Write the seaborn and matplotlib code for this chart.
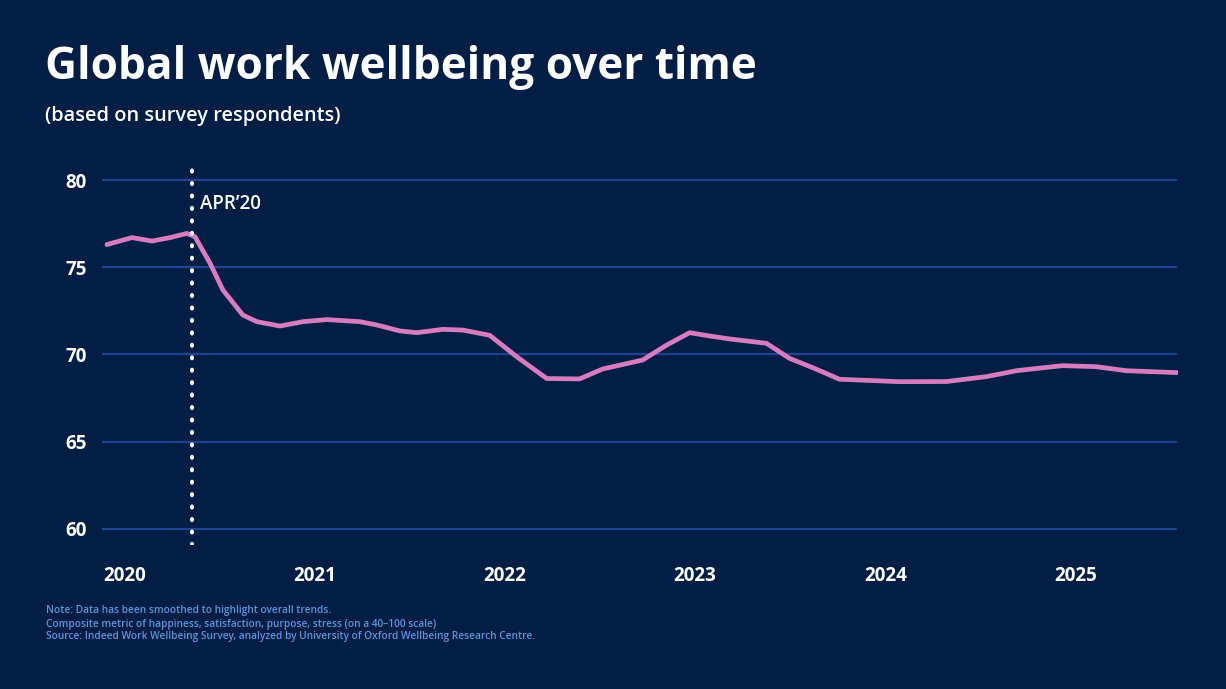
import pandas as pd
import matplotlib
matplotlib.use("Agg")
import matplotlib.pyplot as plt
import seaborn as sns

# valores (anio decimal, indice de bienestar)
anio = [2019.905, 2020.037, 2020.142, 2020.237, 2020.326, 2020.368, 2020.447, 2020.515,
        2020.620, 2020.694, 2020.815, 2020.936, 2021.062, 2021.236, 2021.325, 2021.446,
        2021.535, 2021.672, 2021.777, 2021.919, 2022.061, 2022.219, 2022.392, 2022.513,
        2022.723, 2022.850, 2022.971, 2023.076, 2023.181, 2023.375, 2023.496, 2023.628,
        2023.759, 2024.075, 2024.322, 2024.532, 2024.690, 2024.932, 2025.110, 2025.268,
        2025.536]
bienestar = [76.3, 76.7, 76.5, 76.7, 76.94, 76.75, 75.24, 73.7,
             72.26, 71.88, 71.63, 71.88, 72.0, 71.88, 71.69, 71.35,
             71.25, 71.44, 71.4, 71.1, 69.87, 68.62, 68.6, 69.17,
             69.68, 70.54, 71.25, 71.06, 70.89, 70.64, 69.78, 69.2,
             68.58, 68.44, 68.45, 68.73, 69.07, 69.36, 69.30, 69.07,
             68.96]
anios_ticks = [2020, 2021, 2022, 2023, 2024, 2025]
y_ticks = [60, 65, 70, 75, 80]
marca_x = 2020.352
marca_txt = "APR\u201920"

titulo = "Global work wellbeing over time"
subtitulo = "(based on survey respondents)"
notas = ["Note: Data has been smoothed to highlight overall trends.",
         "Composite metric of happiness, satisfaction, purpose, stress (on a 40\u2013100 scale)",
         "Source: Indeed Work Wellbeing Survey, analyzed by University of Oxford Wellbeing Research Centre."]

fondo = "#021e45"
rosa = "#d87cc0"
rejilla = "#1d4591"
azul_nota = "#5f93dc"

sns.set_style("dark")
plt.rcParams["font.family"] = ["Open Sans", "DejaVu Sans"]

df = pd.DataFrame({"anio": anio, "bienestar": bienestar})

fig = plt.figure(figsize=(12.26, 6.89), dpi=100, facecolor=fondo)
ax = fig.add_axes([102 / 1226, 1 - 545 / 689, (1178 - 102) / 1226, (545 - 165) / 689])
ax.set_facecolor(fondo)

for v in y_ticks:
    ax.axhline(v, color=rejilla, lw=1.6, zorder=1, xmax=(1176 - 102) / (1178 - 102))

sns.lineplot(data=df, x="anio", y="bienestar", color=rosa, lw=3.4, ax=ax, zorder=3,
             solid_capstyle="round", solid_joinstyle="round")

ax.axvline(marca_x, color="white", lw=2.8, linestyle=(0, (0.3, 2.9)),
           dash_capstyle="round", zorder=4)
ax.text(marca_x + 0.045, 78.6, marca_txt, color="white", fontsize=13.5,
        fontweight="semibold", va="center", ha="left")

ax.set_xlim(2019.879, 2025.54)
ax.set_ylim(59.08, 80.86)
ax.set_xticks(anios_ticks)
ax.set_yticks(y_ticks)
ax.set_xticklabels([str(a) for a in anios_ticks])
ax.tick_params(axis="both", length=0, colors="white", labelsize=13.5)
ax.tick_params(axis="y", pad=11)
ax.tick_params(axis="x", pad=15)
for lab in ax.get_xticklabels() + ax.get_yticklabels():
    lab.set_fontweight("bold")
ax.set_xlabel("")
ax.set_ylabel("")
ax.grid(False)
for s in ax.spines.values():
    s.set_visible(False)

fig.text(45 / 1226, 1 - 67 / 689, titulo, color="white", fontsize=31.8,
         fontweight="bold", va="center", ha="left")
fig.text(45 / 1226, 1 - 116 / 689, subtitulo, color="white", fontsize=14.4,
         fontweight="semibold", va="center", ha="left")
for i, n in enumerate(notas):
    fig.text(46 / 1226, 1 - (611 + 13 * i) / 689, n, color=azul_nota, fontsize=7.3,
             fontweight="semibold", va="center", ha="left")

fig.savefig("out.png", dpi=100, facecolor=fondo)
